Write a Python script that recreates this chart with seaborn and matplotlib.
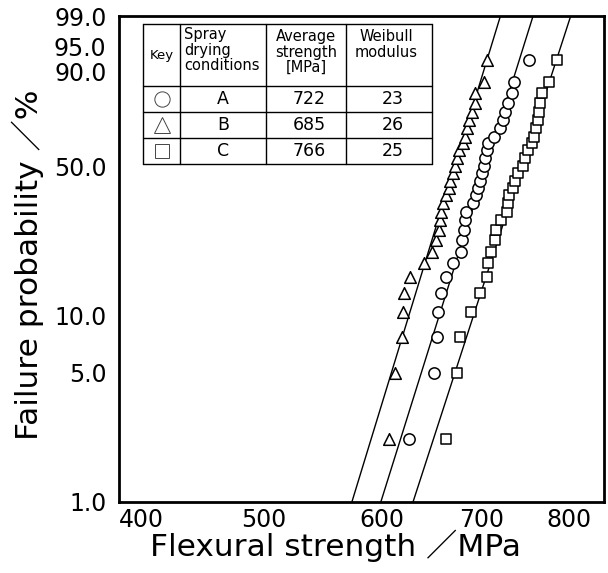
import numpy as np
import pandas as pd
import matplotlib
matplotlib.use("Agg")
import matplotlib.pyplot as plt
import matplotlib.transforms as mtransforms
from matplotlib.ticker import NullLocator
import seaborn as sns

# failure probability of the ranked specimens [%] (same ranks for every batch)
failure_pct = [2.2, 5.0, 7.7, 10.4, 13.0, 15.7, 18.5, 21.0, 23.9, 26.6,
               29.6, 32.3, 35.2, 38.2, 40.8, 43.7, 46.9, 50.0, 53.5, 57.2,
               60.3, 63.4, 67.3, 71.1, 74.8, 78.6, 82.4, 86.6, 92.9]

# flexural strength [MPa]
strength_a = [625.1, 650.1, 653.1, 654.2, 657.2, 662.5, 669.8, 677.4, 678.8, 680.9,
              682.3, 683.0, 690.2, 693.4, 695.8, 698.3, 700.1, 701.8, 703.6, 705.5,
              706.6, 712.7, 720.1, 722.7, 725.7, 728.5, 733.6, 735.0, 752.2]
strength_b = [606.1, 612.4, 618.8, 619.7, 621.0, 626.8, 640.4, 648.4, 652.4, 654.7,
              656.5, 657.0, 659.0, 662.3, 664.9, 666.7, 669.1, 671.1, 673.6, 675.2,
              679.4, 681.5, 684.0, 686.5, 689.4, 692.1, 692.9, 701.8, 705.5]
strength_c = [662.5, 673.9, 676.3, 688.6, 698.3, 705.0, 706.6, 709.6, 714.6, 715.5,
              721.0, 727.9, 729.0, 729.4, 734.1, 736.9, 740.4, 745.5, 748.4, 751.3,
              756.6, 758.9, 761.2, 763.6, 764.8, 766.0, 767.5, 776.7, 786.0]

conditions = ["A", "B", "C"]
avg_strength = [722, 685, 766]
weibull_modulus = [23, 26, 25]

# fitted Weibull lines as drawn: modulus and scale parameter [MPa]
fit_m = [26.1, 26.75, 25.2]
fit_sigma0 = [714.4, 680.3, 755.5]

x_ticks = [400, 500, 600, 700, 800]
y_ticks = [1, 5, 10, 50, 90, 95, 99]
y_minor = [20, 30, 40, 60, 70, 80]

markers = {"A": "o", "B": "^", "C": "s"}
marker_size = {"A": 66, "B": 70, "C": 56}

df = pd.DataFrame({
    "condition": np.repeat(conditions, len(failure_pct)),
    "strength": strength_a + strength_b + strength_c,
    "failure": failure_pct * 3,
})

sns.set_style("white")
plt.rcParams["font.family"] = ["DejaVu Sans", "Noto Sans CJK JP"]
plt.rcParams["text.color"] = "black"
plt.rcParams["axes.labelcolor"] = "black"
plt.rcParams["xtick.color"] = "black"
plt.rcParams["ytick.color"] = "black"


def weibull_fwd(p):
    p = np.clip(np.asarray(p, dtype=float), 1e-6, 100 - 1e-6)
    return np.log(-np.log(1 - p / 100))


def weibull_inv(y):
    return 100 * (1 - np.exp(-np.exp(np.asarray(y, dtype=float))))


fig = plt.figure(figsize=(6.08, 5.73), dpi=100)
ax = fig.add_axes([119 / 608, 1 - 502 / 573, 485 / 608, 486 / 573])
ax.set_xscale("log")
ax.set_yscale("function", functions=(weibull_fwd, weibull_inv))

# fitted lines
line_f = np.array([0.5, 99.5])
for cond, m, s0 in zip(conditions, fit_m, fit_sigma0):
    sig = s0 * (-np.log(1 - line_f / 100)) ** (1 / m)
    sns.lineplot(x=sig, y=line_f, color="black", lw=1.0, ax=ax, sort=False)

for cond in conditions:
    sub = df[df["condition"] == cond]
    sns.scatterplot(data=sub, x="strength", y="failure", marker=markers[cond],
                    s=marker_size[cond], color="white", edgecolor="black",
                    linewidth=1.1, ax=ax, legend=False, zorder=3)

ax.set_xlim(400, 845)
ax.set_ylim(1, 99)
ax.set_xticks(x_ticks)
ax.set_xticklabels([str(v) for v in x_ticks])
ax.xaxis.set_minor_locator(NullLocator())
ax.set_yticks(y_ticks)
ax.set_yticklabels([f"{v:.1f}" for v in y_ticks])
ax.set_yticks(y_minor, minor=True)

ax.tick_params(axis="both", which="both", direction="in", top=False, right=False,
               width=1.1, colors="black")
ax.tick_params(axis="y", which="both", length=9.5, pad=9, labelsize=17)
ax.tick_params(axis="x", which="major", length=8.5, pad=4, labelsize=17)
ax.yaxis.get_major_ticks()[1].tick1line.set_markersize(5)

# the 400 label sits to the right of the corner
lab400 = ax.get_xticklabels()[0]
lab400.set_transform(lab400.get_transform() +
                     mtransforms.ScaledTranslation(0.22, 0, fig.dpi_scale_trans))
# the crowded 95.0 / 90.0 labels are spread apart a little
ylabs = ax.get_yticklabels()
ylabs[5].set_transform(ylabs[5].get_transform() +
                       mtransforms.ScaledTranslation(0, 0.04, fig.dpi_scale_trans))
ylabs[4].set_transform(ylabs[4].get_transform() +
                       mtransforms.ScaledTranslation(0, -0.01, fig.dpi_scale_trans))

for sp in ax.spines.values():
    sp.set_linewidth(2.0)
    sp.set_color("black")

ax.set_xlabel("Flexural strength ／MPa", fontsize=22.5)
ax.set_ylabel("Failure probability ／%", fontsize=22.5)
ax.xaxis.set_label_coords((335 - 119) / 485, (502 - 530) / 486)
ax.yaxis.set_label_coords((44 - 119) / 485, (502 - 265) / 486)

# key table in the upper left corner, drawn in pixel units
tab = fig.add_axes([143 / 608, 1 - 164 / 573, 289 / 608, 140 / 573])
tab.set_xlim(143, 432)
tab.set_ylim(164, 24)
tab.axis("off")
lw = 1.0
col_x = [143, 180, 266, 346, 432]
row_y = [24, 86, 112, 138, 164]
for x in col_x:
    tab.plot([x, x], [24, 164], color="black", lw=lw, clip_on=False)
for y in row_y:
    tab.plot([143, 432], [y, y], color="black", lw=lw, clip_on=False)

tab.text(161.5, 55, "Key", ha="center", va="center", fontsize=9.5)
tab.text(184, 27, "Spray\ndrying\nconditions", ha="left", va="top", fontsize=10.5,
         linespacing=1.05)
tab.text(306, 29, "Average\nstrength\n[MPa]", ha="center", va="top", fontsize=10.5,
         linespacing=1.05)
tab.text(386, 29, "Weibull\nmodulus", ha="center", va="top", fontsize=10.5,
         linespacing=1.05)

row_mid = [(row_y[i] + row_y[i + 1]) / 2 for i in range(1, 4)]
key_size = {"A": 11, "B": 11, "C": 10}
for y, cond, avg, mod in zip(row_mid, conditions, avg_strength, weibull_modulus):
    tab.plot([161.5], [y], marker=markers[cond], ms=key_size[cond], mfc="white",
             mec="#444444", mew=0.7, clip_on=False)
    tab.text(223, y, cond, ha="center", va="center", fontsize=12.5)
    tab.text(309, y, str(avg), ha="center", va="center", fontsize=12.5)
    tab.text(393, y, str(mod), ha="center", va="center", fontsize=12.5)

fig.savefig("out.png", dpi=100)
